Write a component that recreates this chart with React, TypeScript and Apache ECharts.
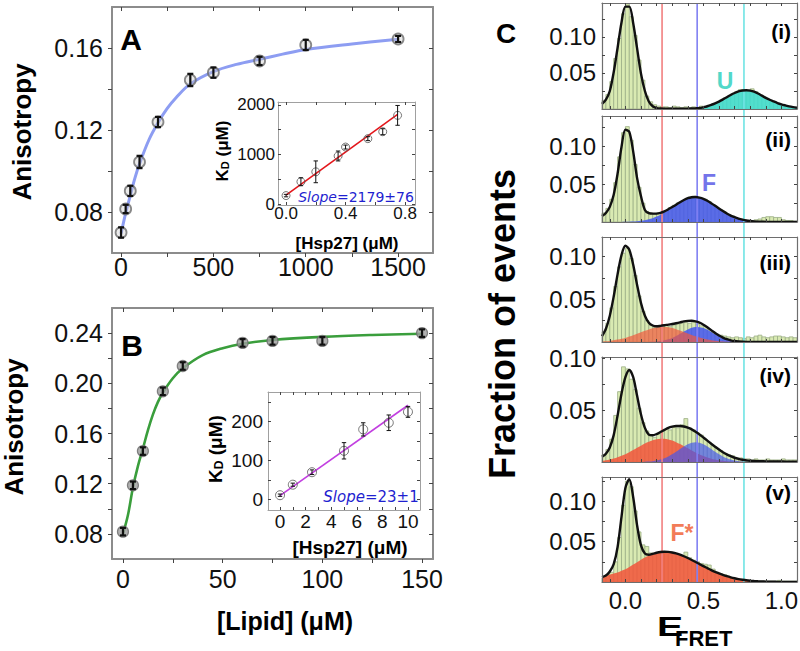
import React, { useEffect, useRef } from "react";
import * as echarts from "echarts";

const FONT = "'Liberation Sans', Arial, Helvetica, sans-serif";
const DEJAVU = "'DejaVu Sans', Verdana, sans-serif";

// ---------------- Panel A : anisotropy vs [lipid] ----------------
const lipidA = [0, 25, 50, 100, 200, 375, 500, 750, 1000, 1500];
const anisoA = [0.07, 0.0815, 0.0903, 0.1044, 0.1239, 0.1444, 0.148, 0.1537, 0.1615, 0.1644];
const anisoErrA = [0.0025, 0.002, 0.0025, 0.003, 0.0025, 0.003, 0.0025, 0.002, 0.0025, 0.0015];
const fitLipidA = [0, 25, 50, 75, 100, 150, 200, 250, 300, 375, 500, 625, 750, 875, 1000, 1250, 1500];
const fitAnisoA = [0.0695, 0.0795, 0.088, 0.0965, 0.1035, 0.115, 0.1235, 0.1305, 0.136, 0.1425, 0.1485, 0.152, 0.1545, 0.157, 0.1593, 0.162, 0.1643];
const ticksXA = [0, 250, 500, 750, 1000, 1250, 1500];
const labelsXA = [0, 500, 1000, 1500];
const ticksYA = [0.08, 0.1, 0.12, 0.14, 0.16];
const labelsYA = [0.08, 0.12, 0.16];

// inset A : KD vs [Hsp27]
const hspA = [0, 0.1, 0.2, 0.35, 0.4, 0.55, 0.65, 0.75];
const kdA = [170, 450, 650, 970, 1150, 1320, 1460, 1790];
const kdErrA = [25, 80, 220, 100, 40, 40, 60, 200];
const fitHspA = [0, 0.75];
const fitKdA = [180, 1810];
const ticksXAi = [0, 0.2, 0.4, 0.6, 0.8];
const labelsXAi = [0, 0.4, 0.8];
const ticksYAi = [0, 500, 1000, 1500, 2000];
const labelsYAi = [0, 1000, 2000];

// ---------------- Panel B ----------------
const lipidB = [0, 5, 10, 20, 30, 60, 75, 100, 150];
const anisoB = [0.0818, 0.1187, 0.146, 0.1936, 0.2138, 0.2322, 0.2338, 0.2338, 0.24];
const anisoErrB = [0.003, 0.003, 0.003, 0.003, 0.003, 0.003, 0.003, 0.003, 0.003];
const fitLipidB = [0, 2.5, 5, 7.5, 10, 12.5, 15, 17.5, 20, 25, 30, 40, 50, 60, 75, 100, 125, 150];
const fitAnisoB = [0.08, 0.095, 0.117, 0.134, 0.148, 0.1625, 0.175, 0.185, 0.1925, 0.204, 0.212, 0.2225, 0.228, 0.2315, 0.2345, 0.237, 0.2385, 0.2395];
const ticksXB = [0, 25, 50, 75, 100, 125, 150];
const labelsXB = [0, 50, 100, 150];
const ticksYB = [0.08, 0.1, 0.12, 0.14, 0.16, 0.18, 0.2, 0.22, 0.24];
const labelsYB = [0.08, 0.12, 0.16, 0.2, 0.24];

// inset B
const hspB = [0, 1, 2.5, 5, 6.5, 8.5, 10];
const kdB = [11, 38, 70, 125, 180, 197, 225];
const kdErrB = [3, 4, 6, 21, 17, 20, 14];
const fitHspB = [0, 10];
const fitKdB = [10, 242];
const ticksXBi = [0, 1, 2, 3, 4, 5, 6, 7, 8, 9, 10];
const labelsXBi = [0, 2, 4, 6, 8, 10];
const ticksYBi = [0, 50, 100, 150, 200, 250];
const labelsYBi = [0, 100, 200];

// ---------------- Panel C : FRET histograms ----------------
const eGrid = [-0.15, -0.125, -0.1, -0.075, -0.05, -0.025, 0, 0.025, 0.05, 0.075, 0.1, 0.125, 0.15, 0.175, 0.2, 0.225, 0.25, 0.275, 0.3, 0.325, 0.35, 0.375, 0.4, 0.425, 0.45, 0.475, 0.5, 0.525, 0.55, 0.575, 0.6, 0.625, 0.65, 0.675, 0.7, 0.725, 0.75, 0.775, 0.8, 0.825, 0.85, 0.875, 0.9, 0.925, 0.95, 0.975, 1.0, 1.025, 1.05, 1.075, 1.1];
const binCenters = [-0.1375, -0.1125, -0.0875, -0.0625, -0.0375, -0.0125, 0.0125, 0.0375, 0.0625, 0.0875, 0.1125, 0.1375, 0.1625, 0.1875, 0.2125, 0.2375, 0.2625, 0.2875, 0.3125, 0.3375, 0.3625, 0.3875, 0.4125, 0.4375, 0.4625, 0.4875, 0.5125, 0.5375, 0.5625, 0.5875, 0.6125, 0.6375, 0.6625, 0.6875, 0.7125, 0.7375, 0.7625, 0.7875, 0.8125, 0.8375, 0.8625, 0.8875, 0.9125, 0.9375, 0.9625, 0.9875, 1.0125, 1.0375, 1.0625, 1.0875];
const binWidth = 0.025;

// (i)
const hist1 = [0.012, 0.02, 0.038, 0.07, 0.098, 0.132, 0.146, 0.128, 0.102, 0.068, 0.04, 0.018, 0.01, 0.006, 0.004, 0.003, 0.003, 0.002, 0.004, 0.003, 0.002, 0.003, 0.002, 0.003, 0.002, 0.004, 0.003, 0.005, 0.007, 0.009, 0.012, 0.015, 0.018, 0.021, 0.024, 0.027, 0.025, 0.026, 0.028, 0.024, 0.02, 0.017, 0.014, 0.011, 0.009, 0.007, 0.005, 0.004, 0.003, 0.002];
const fit1 = [0.007, 0.013, 0.025, 0.051, 0.085, 0.12, 0.142, 0.142, 0.119, 0.084, 0.049, 0.025, 0.0105, 0.0038, 0.0013, 0.0006, 0.0005, 0.0005, 0.0005, 0.0005, 0.0005, 0.0005, 0.0005, 0.0006, 0.0009, 0.0014, 0.0025, 0.0038, 0.0056, 0.0078, 0.0103, 0.0133, 0.0164, 0.0195, 0.0222, 0.0243, 0.0257, 0.026, 0.0255, 0.024, 0.0215, 0.0185, 0.0155, 0.0128, 0.0105, 0.0083, 0.0065, 0.005, 0.0036, 0.0026, 0.0018];
const stateU1 = [0, 0, 0, 0, 0, 0, 0, 0, 0, 0, 0, 0, 0, 0, 0, 0, 0, 0, 0, 0, 0, 0, 0, 0.0002, 0.0005, 0.001, 0.0025, 0.0038, 0.0056, 0.0078, 0.0103, 0.0133, 0.0164, 0.0195, 0.0222, 0.0243, 0.0257, 0.026, 0.0255, 0.024, 0.0215, 0.0185, 0.0155, 0.0128, 0.0105, 0.0083, 0.0065, 0.005, 0.0036, 0.0026, 0.0018];

// (ii)
const hist2 = [0.012, 0.018, 0.03, 0.052, 0.086, 0.118, 0.126, 0.108, 0.076, 0.046, 0.025, 0.014, 0.012, 0.01, 0.012, 0.013, 0.015, 0.019, 0.022, 0.025, 0.027, 0.03, 0.033, 0.034, 0.032, 0.031, 0.03, 0.027, 0.023, 0.019, 0.016, 0.013, 0.01, 0.008, 0.005, 0.004, 0.003, 0.002, 0.002, 0.003, 0.004, 0.006, 0.007, 0.007, 0.006, 0.006, 0.003, 0.002, 0.002, 0.001];
const fit2 = [0.008, 0.012, 0.02, 0.036, 0.064, 0.099, 0.122, 0.119, 0.093, 0.058, 0.034, 0.016, 0.0116, 0.011, 0.011, 0.012, 0.014, 0.0168, 0.0198, 0.0229, 0.0262, 0.0291, 0.0314, 0.0327, 0.033, 0.0322, 0.0306, 0.028, 0.0249, 0.0215, 0.0179, 0.0144, 0.0113, 0.0085, 0.0063, 0.0045, 0.0031, 0.002, 0.0013, 0.0008, 0.0005, 0.0003, 0.0002, 0.0001, 0.0001, 0.0001, 0.0001, 0.0001, 0.0001, 0.0001, 0.0001];
const stateF2 = [0, 0, 0, 0, 0, 0, 0.0002, 0.0004, 0.0006, 0.001, 0.0016, 0.0024, 0.0036, 0.0051, 0.0071, 0.0096, 0.0125, 0.0158, 0.0193, 0.0229, 0.0262, 0.0291, 0.0314, 0.0327, 0.033, 0.0322, 0.0306, 0.028, 0.0249, 0.0215, 0.0179, 0.0144, 0.0113, 0.0085, 0.0063, 0.0045, 0.0031, 0.002, 0.0013, 0.0008, 0.0005, 0.0003, 0.0002, 0.0001, 0.0001, 0.0001, 0.0001, 0.0001, 0.0001, 0.0001, 0.0001];

// (iii)
const hist3 = [0.012, 0.022, 0.04, 0.065, 0.088, 0.104, 0.11, 0.098, 0.078, 0.054, 0.036, 0.025, 0.02, 0.017, 0.017, 0.018, 0.019, 0.018, 0.02, 0.021, 0.022, 0.023, 0.022, 0.024, 0.021, 0.019, 0.018, 0.014, 0.012, 0.009, 0.008, 0.007, 0.006, 0.005, 0.006, 0.005, 0.004, 0.006, 0.005, 0.007, 0.008, 0.006, 0.005, 0.006, 0.007, 0.007, 0.006, 0.005, 0.006, 0.005];
const fit3 = [0.0068, 0.0155, 0.0308, 0.0533, 0.0795, 0.1018, 0.1127, 0.1081, 0.0904, 0.0669, 0.0455, 0.0307, 0.0225, 0.0193, 0.0184, 0.0189, 0.0196, 0.0204, 0.0211, 0.022, 0.023, 0.0241, 0.0247, 0.0249, 0.0241, 0.0226, 0.0203, 0.0172, 0.0139, 0.0105, 0.0076, 0.0052, 0.0033, 0.002, 0.0011, 0.0006, 0.0003, 0.0001, 0.0001, 0.0001, 0.0001, 0.0001, 0.0001, 0.0001, 0.0001, 0.0001, 0.0001, 0.0001, 0.0001, 0.0001, 0.0001];
const stateFs3 = [0.0006, 0.0009, 0.0013, 0.002, 0.0028, 0.0037, 0.0048, 0.0063, 0.0079, 0.0096, 0.0114, 0.0131, 0.0147, 0.0161, 0.0169, 0.0175, 0.0176, 0.0172, 0.0163, 0.015, 0.0134, 0.0118, 0.01, 0.0083, 0.0066, 0.0052, 0.004, 0.0029, 0.0021, 0.0014, 0.001, 0.0007, 0.0004, 0.0002, 0.0001, 0, 0, 0, 0, 0, 0, 0, 0, 0, 0, 0, 0, 0, 0, 0, 0];
const stateF3 = [0, 0, 0, 0, 0, 0, 0, 0, 0, 0, 0, 0, 0.0001, 0.0003, 0.0006, 0.0011, 0.002, 0.0032, 0.0048, 0.007, 0.0096, 0.0123, 0.0147, 0.0166, 0.0175, 0.0174, 0.0163, 0.0143, 0.0118, 0.0091, 0.0066, 0.0045, 0.0029, 0.0018, 0.001, 0.0006, 0.0002, 0.0001, 0, 0, 0, 0, 0, 0, 0, 0, 0, 0, 0, 0, 0];

// (iv)
const hist4 = [0.007, 0.012, 0.022, 0.045, 0.068, 0.092, 0.09, 0.08, 0.07, 0.052, 0.038, 0.03, 0.026, 0.024, 0.027, 0.03, 0.032, 0.031, 0.034, 0.033, 0.036, 0.042, 0.033, 0.031, 0.028, 0.026, 0.022, 0.019, 0.016, 0.013, 0.011, 0.008, 0.007, 0.006, 0.004, 0.004, 0.003, 0.003, 0.002, 0.003, 0.002, 0.002, 0.003, 0.002, 0.002, 0.002, 0.003, 0.002, 0.002, 0.002];
const fit4 = [0.005, 0.008, 0.014, 0.026, 0.045, 0.066, 0.082, 0.089, 0.082, 0.064, 0.046, 0.033, 0.0265, 0.0258, 0.027, 0.029, 0.031, 0.033, 0.0342, 0.0348, 0.0348, 0.0343, 0.0332, 0.0315, 0.0292, 0.0266, 0.0237, 0.0207, 0.0177, 0.0148, 0.012, 0.0095, 0.0074, 0.0056, 0.0041, 0.003, 0.0022, 0.0016, 0.0012, 0.001, 0.0008, 0.0007, 0.0006, 0.0006, 0.0005, 0.0005, 0.0005, 0.0004, 0.0004, 0.0004, 0.0004];
const stateFs4 = [0.0012, 0.0018, 0.0025, 0.0034, 0.0046, 0.006, 0.0076, 0.0095, 0.0115, 0.0137, 0.0158, 0.0178, 0.0195, 0.021, 0.022, 0.0225, 0.0224, 0.0218, 0.0207, 0.0192, 0.0174, 0.0153, 0.0132, 0.0111, 0.0091, 0.0073, 0.0057, 0.0043, 0.0032, 0.0024, 0.0017, 0.0012, 0.0008, 0.0005, 0.0003, 0.0002, 0.0001, 0, 0, 0, 0, 0, 0, 0, 0, 0, 0, 0, 0, 0, 0];
const stateF4 = [0, 0, 0, 0, 0, 0, 0, 0, 0, 0, 0, 0.0003, 0.0005, 0.0008, 0.0014, 0.0023, 0.0036, 0.0054, 0.0075, 0.0099, 0.0126, 0.0151, 0.0171, 0.0185, 0.019, 0.0185, 0.0171, 0.0151, 0.0126, 0.0099, 0.0075, 0.0054, 0.0036, 0.0023, 0.0014, 0.0008, 0.0004, 0.0002, 0.0001, 0, 0, 0, 0, 0, 0, 0, 0, 0, 0, 0, 0];

// (v)
const hist5 = [0.005, 0.009, 0.012, 0.025, 0.055, 0.095, 0.125, 0.118, 0.088, 0.062, 0.046, 0.044, 0.036, 0.034, 0.036, 0.038, 0.036, 0.037, 0.035, 0.034, 0.032, 0.037, 0.03, 0.027, 0.025, 0.023, 0.022, 0.021, 0.016, 0.012, 0.01, 0.009, 0.007, 0.005, 0.004, 0.003, 0.002, 0.002, 0.001, 0.001, 0.001, 0.001, 0.001, 0.001, 0.001, 0.002, 0.001, 0.001, 0.001, 0.001];
const fit5 = [0.006, 0.008, 0.013, 0.022, 0.0434, 0.0807, 0.1165, 0.1272, 0.105, 0.0701, 0.0453, 0.0352, 0.0337, 0.0348, 0.0362, 0.0372, 0.0375, 0.0373, 0.0365, 0.0354, 0.0338, 0.0319, 0.0297, 0.0273, 0.0248, 0.0222, 0.0196, 0.0172, 0.0148, 0.0126, 0.0106, 0.0088, 0.0072, 0.0058, 0.0046, 0.0036, 0.0028, 0.0021, 0.0016, 0.0012, 0.0009, 0.0007, 0.0005, 0.0004, 0.0003, 0.0002, 0.0001, 0.0001, 0.0001, 0.0001, 0.0001];
const stateFs5 = [0.006, 0.0075, 0.009, 0.0105, 0.0118, 0.014, 0.0157, 0.0186, 0.0216, 0.0245, 0.0274, 0.0302, 0.0327, 0.0347, 0.0362, 0.0372, 0.0375, 0.0373, 0.0365, 0.0354, 0.0338, 0.0319, 0.0297, 0.0273, 0.0248, 0.0222, 0.0196, 0.0172, 0.0148, 0.0126, 0.0106, 0.0088, 0.0072, 0.0058, 0.0046, 0.0036, 0.0028, 0.0021, 0.0016, 0.0012, 0.0009, 0.0007, 0.0005, 0.0004, 0.0003, 0.0002, 0.0001, 0.0001, 0.0001, 0.0001, 0.0001];

const cYMax = [0.147, 0.14, 0.123, 0.1015, 0.13];
const cTicksX = [-0.1, 0, 0.1, 0.2, 0.3, 0.4, 0.5, 0.6, 0.7, 0.8, 0.9, 1.0];
const cLabelsX = [0, 0.5, 1.0];
const cTicksY = [0.025, 0.05, 0.075, 0.1, 0.125];
const cLabelsY = [0.05, 0.1];
const panelTags = ["(i)", "(ii)", "(iii)", "(iv)", "(v)"];
const refE = [0.235, 0.46, 0.76];
const refColors = ["#f27f7f", "#8080f2", "#6fe4e4"];

const COL_U = "#3fdcd0";
const COL_F = "#4356ee";
const COL_FS = "#f1583c";

function makeAxis(gridIndex: number, pos: string, s: any) {
  return {
    type: "value",
    gridIndex,
    min: s.min,
    max: s.max,
    position: pos,
    z: 6,
    silent: true,
    axisLine: { show: !!s.line, onZero: false, lineStyle: { color: s.line ? s.line.color : "#888", width: s.line ? s.line.width : 1 } },
    axisTick: {
      show: !!(s.ticks && s.ticks.length),
      customValues: s.ticks || [],
      inside: !!s.inside,
      length: s.tickLen || 4,
      lineStyle: { color: s.tickColor || "#444", width: s.tickWidth || 1 },
    },
    axisLabel: {
      show: !!(s.labels && s.labels.length),
      customValues: s.labels || [],
      formatter: s.fmt,
      fontSize: s.fontSize || 12,
      fontFamily: FONT,
      color: "#111",
      margin: s.margin == null ? 6 : s.margin,
    },
    splitLine: { show: false },
    splitArea: { show: false },
  };
}

export default function App() {
  const ref = useRef<HTMLDivElement>(null);
  useEffect(() => {
    const el = ref.current;
    if (!el) return;
    const chart = echarts.init(el, null, { renderer: "svg" });

    const grids: any[] = [];
    const xAxis: any[] = [];
    const yAxis: any[] = [];
    const series: any[] = [];

    function addPanel(box: number[], xs: any[], ys: any[], bg?: boolean) {
      const gi = grids.length;
      grids.push({ left: box[0], top: box[1], width: box[2], height: box[3], show: !!bg, backgroundColor: "#fff", borderWidth: 0, containLabel: false, outerBoundsMode: "none" });
      const xi = xAxis.length;
      const yi = yAxis.length;
      xs.forEach((a: any) => xAxis.push(makeAxis(gi, a[0], a[1])));
      ys.forEach((a: any) => yAxis.push(makeAxis(gi, a[0], a[1])));
      return { gi, xi, yi };
    }

    const errBars = (p: any, xs: number[], ys: number[], es: number[], color: string, lw: number, cap: number, z: number) => ({
      type: "custom",
      xAxisIndex: p.xi,
      yAxisIndex: p.yi,
      z,
      silent: true,
      encode: { x: 0, y: 1 },
      data: xs.map((x, i) => [x, ys[i], es[i]]),
      renderItem: (_params: any, api: any) => {
        const x = api.value(0), y = api.value(1), e = api.value(2);
        const t = api.coord([x, y + e]);
        const b = api.coord([x, y - e]);
        const st = { stroke: color, lineWidth: lw };
        return {
          type: "group",
          children: [
            { type: "line", shape: { x1: t[0], y1: t[1], x2: b[0], y2: b[1] }, style: st },
            { type: "line", shape: { x1: t[0] - cap, y1: t[1], x2: t[0] + cap, y2: t[1] }, style: st },
            { type: "line", shape: { x1: b[0] - cap, y1: b[1], x2: b[0] + cap, y2: b[1] }, style: st },
          ],
        };
      },
    });

    // ---------- Panel A ----------
    const fA = { color: "#8c8c8c", width: 2 };
    const A = addPanel(
      [112, 7, 321, 246],
      [
        ["bottom", { min: -49, max: 1689, line: fA, ticks: ticksXA, tickLen: 4, labels: labelsXA, fmt: (v: number) => String(v), fontSize: 25, margin: 1 }],
        ["top", { min: -49, max: 1689, line: fA, ticks: ticksXA, tickLen: 4, inside: true }],
      ],
      [
        ["left", { min: 0.06, max: 0.18, line: fA, ticks: ticksYA, tickLen: 4, labels: labelsYA, fmt: (v: number) => v.toFixed(2), fontSize: 25, margin: 9 }],
        ["right", { min: 0.06, max: 0.18, line: fA, ticks: ticksYA, tickLen: 4, inside: true }],
      ]
    );
    series.push({ type: "line", xAxisIndex: A.xi, yAxisIndex: A.yi, z: 2, smooth: 0.35, symbol: "none", silent: true, data: fitLipidA.map((x, i) => [x, fitAnisoA[i]]), lineStyle: { color: "#8d9df2", width: 3 } });
    series.push({ type: "scatter", xAxisIndex: A.xi, yAxisIndex: A.yi, z: 3, silent: true, symbol: "circle", symbolSize: 11, data: lipidA.map((x, i) => [x, anisoA[i]]), itemStyle: { color: "rgba(200,200,200,0.45)", borderColor: "#6b6b6b", borderWidth: 1.8 } });
    series.push(errBars(A, lipidA, anisoA, anisoErrA, "#111", 2.2, 3, 4));

    // inset A
    const fi = { color: "#a0a0a0", width: 1 };
    const Ai = addPanel(
      [278, 102, 137, 103],
      [
        ["bottom", { min: -0.054, max: 0.867, line: fi, ticks: ticksXAi, tickLen: 3, inside: true, labels: labelsXAi, fmt: (v: number) => v.toFixed(1), fontSize: 17, margin: 0 }],
        ["top", { min: -0.054, max: 0.867, line: fi, ticks: ticksXAi, tickLen: 3, inside: true }],
      ],
      [
        ["left", { min: -20, max: 2060, line: fi, ticks: ticksYAi, tickLen: 3, inside: true, labels: labelsYAi, fmt: (v: number) => String(v), fontSize: 17, margin: 3 }],
        ["right", { min: -20, max: 2060, line: fi, ticks: ticksYAi, tickLen: 3, inside: true }],
      ],
      true
    );
    series.push({ type: "line", xAxisIndex: Ai.xi, yAxisIndex: Ai.yi, z: 2, symbol: "none", silent: true, data: fitHspA.map((x, i) => [x, fitKdA[i]]), lineStyle: { color: "#e3161b", width: 1.6 } });
    series.push({ type: "scatter", xAxisIndex: Ai.xi, yAxisIndex: Ai.yi, z: 3, silent: true, symbolSize: 8, data: hspA.map((x, i) => [x, kdA[i]]), itemStyle: { color: "rgba(255,255,255,0)", borderColor: "#555", borderWidth: 1 } });
    series.push(errBars(Ai, hspA, kdA, kdErrA, "#111", 1, 2.2, 4));

    // ---------- Panel B ----------
    const B = addPanel(
      [112, 308, 321, 251],
      [
        ["bottom", { min: -5.5, max: 155.5, line: fA, ticks: ticksXB, tickLen: 4, labels: labelsXB, fmt: (v: number) => String(v), fontSize: 25, margin: 7 }],
        ["top", { min: -5.5, max: 155.5, line: fA, ticks: ticksXB, tickLen: 4, inside: true }],
      ],
      [
        ["left", { min: 0.06, max: 0.26, line: fA, ticks: ticksYB, tickLen: 4, labels: labelsYB, fmt: (v: number) => v.toFixed(2), fontSize: 25, margin: 9 }],
        ["right", { min: 0.06, max: 0.26, line: fA, ticks: ticksYB, tickLen: 4, inside: true }],
      ]
    );
    series.push({ type: "line", xAxisIndex: B.xi, yAxisIndex: B.yi, z: 2, smooth: 0.35, symbol: "none", silent: true, data: fitLipidB.map((x, i) => [x, fitAnisoB[i]]), lineStyle: { color: "#3a9e3c", width: 2.6 } });
    series.push({ type: "scatter", xAxisIndex: B.xi, yAxisIndex: B.yi, z: 3, silent: true, symbolSize: 11, data: lipidB.map((x, i) => [x, anisoB[i]]), itemStyle: { color: "#9c9c9c", borderColor: "#6a6a6a", borderWidth: 1.2 } });
    series.push(errBars(B, lipidB, anisoB, anisoErrB, "#111", 2.2, 3, 4));

    // inset B
    const Bi = addPanel(
      [268, 392, 152, 118],
      [
        ["bottom", { min: -0.94, max: 10.94, line: fi, ticks: ticksXBi, tickLen: 3, inside: true, labels: labelsXBi, fmt: (v: number) => String(v), fontSize: 19, margin: 2 }],
        ["top", { min: -0.94, max: 10.94, line: fi, ticks: ticksXBi, tickLen: 3, inside: true }],
      ],
      [
        ["left", { min: -27, max: 276, line: fi, ticks: ticksYBi, tickLen: 3, inside: true, labels: labelsYBi, fmt: (v: number) => String(v), fontSize: 19, margin: 5 }],
        ["right", { min: -27, max: 276, line: fi, ticks: ticksYBi, tickLen: 3, inside: true }],
      ],
      true
    );
    series.push({ type: "line", xAxisIndex: Bi.xi, yAxisIndex: Bi.yi, z: 2, symbol: "none", silent: true, data: fitHspB.map((x, i) => [x, fitKdB[i]]), lineStyle: { color: "#c23fe0", width: 1.6 } });
    series.push({ type: "scatter", xAxisIndex: Bi.xi, yAxisIndex: Bi.yi, z: 3, silent: true, symbolSize: 9, data: hspB.map((x, i) => [x, kdB[i]]), itemStyle: { color: "rgba(255,255,255,0)", borderColor: "#555", borderWidth: 1 } });
    series.push(errBars(Bi, hspB, kdB, kdErrB, "#111", 1, 2.2, 4));

    // ---------- Panel C ----------
    const cBoxes = [
      [602, 3, 195, 106],
      [602, 116, 195, 106],
      [602, 237, 195, 105],
      [602, 357, 195, 105],
      [602, 477, 195, 105],
    ];
    const fC = { color: "#6e6e6e", width: 1.2 };
    const C = cBoxes.map((box, k) => {
      const ymax = cYMax[k];
      const yt = cTicksY.filter((v) => v < ymax - 0.001);
      return addPanel(
        box,
        [
          ["bottom", { min: -0.15, max: 1.1, line: fC, ticks: cTicksX, tickLen: 3, inside: true, labels: k === 4 ? cLabelsX : null, fmt: (v: number) => v.toFixed(1), fontSize: 24, margin: 6 }],
          ["top", { min: -0.15, max: 1.1, line: fC, ticks: cTicksX, tickLen: 3, inside: true }],
        ],
        [
          ["left", { min: 0, max: ymax, line: fC, ticks: yt, tickLen: 3, inside: true, labels: cLabelsY, fmt: (v: number) => v.toFixed(2), fontSize: 24, margin: 6 }],
          ["right", { min: 0, max: ymax, line: fC, ticks: yt, tickLen: 3, inside: true }],
        ]
      );
    });

    const hist = (p: any, vals: number[]) => ({
      type: "custom",
      xAxisIndex: p.xi,
      yAxisIndex: p.yi,
      z: 1,
      silent: true,
      encode: { x: 0, y: 1 },
      data: binCenters.map((c, i) => [c, vals[i]]),
      renderItem: (_params: any, api: any) => {
        const c = api.value(0), h = api.value(1);
        const a = api.coord([c - binWidth / 2, h]);
        const b = api.coord([c + binWidth / 2, 0]);
        return { type: "rect", shape: { x: a[0], y: a[1], width: b[0] - a[0], height: b[1] - a[1] }, style: { fill: "#d9eab2", stroke: "#9cae86", lineWidth: 0.8 } };
      },
    });
    const area = (p: any, ys: number[], color: string, opacity: number, z: number) => ({
      type: "line",
      xAxisIndex: p.xi,
      yAxisIndex: p.yi,
      z,
      silent: true,
      smooth: 0.3,
      symbol: "none",
      data: eGrid.map((e, i) => [e, ys[i]]),
      lineStyle: { width: 0 },
      areaStyle: { color, opacity },
    });
    const fitLine = (p: any, ys: number[]) => ({
      type: "line",
      xAxisIndex: p.xi,
      yAxisIndex: p.yi,
      z: 5,
      silent: true,
      smooth: 0.3,
      symbol: "none",
      data: eGrid.map((e, i) => [e, ys[i]]),
      lineStyle: { color: "#111", width: 2.4 },
    });

    series.push(hist(C[0], hist1), area(C[0], stateU1, COL_U, 0.88, 2), fitLine(C[0], fit1));
    series.push(hist(C[1], hist2), area(C[1], stateF2, COL_F, 0.85, 2), fitLine(C[1], fit2));
    series.push(hist(C[2], hist3), area(C[2], stateF3, COL_F, 0.85, 2), area(C[2], stateFs3, COL_FS, 0.7, 3), fitLine(C[2], fit3));
    series.push(hist(C[3], hist4), area(C[3], stateFs4, COL_FS, 0.88, 2), area(C[3], stateF4, COL_F, 0.68, 3), fitLine(C[3], fit4));
    series.push(hist(C[4], hist5), area(C[4], stateFs5, COL_FS, 0.88, 2), fitLine(C[4], fit5));

    chart.setOption({
      animation: false,
      backgroundColor: "#fff",
      grid: grids,
      xAxis,
      yAxis,
      series,
    });

    // ---------- annotations ----------
    const txt = (text: string, x: number, y: number, size: number, o: any = {}) => ({
      type: "text",
      x,
      y,
      z: 100,
      rotation: o.rotation || 0,
      scaleX: o.scaleX || 1,
      silent: true,
      style: {
        text,
        fill: o.color || "#000",
        fontSize: size,
        fontWeight: o.weight || "bold",
        fontFamily: o.family || FONT,
        fontStyle: o.style || "normal",
        align: o.align || "center",
        verticalAlign: "middle",
        textAlign: o.align || "center",
        textVerticalAlign: "middle",
        lineHeight: o.lineHeight,
        rich: o.rich,
      },
    });

    const kdRich = (size: number, sub: number) => ({
      k: { fontSize: size, fontWeight: "bold", fontFamily: FONT, fill: "#000", lineHeight: size, verticalAlign: "top" },
      d: { fontSize: sub, fontWeight: "bold", fontFamily: FONT, fill: "#000", lineHeight: sub, verticalAlign: "bottom", padding: [Math.round(size * 0.55), 0, 0, 0] },
    });
    const slopeRich = (size: number) => ({
      i: { fontSize: size, fontFamily: DEJAVU, fontStyle: "italic", fill: "#1f1fd0" },
      n: { fontSize: size, fontFamily: DEJAVU, fill: "#1f1fd0" },
    });

    const elements: any[] = [
      txt("A", 131, 39, 30),
      txt("B", 132, 345, 30),
      txt("C", 506, 33, 28),
      txt("Anisotropy", 22, 132, 26, { rotation: Math.PI / 2 }),
      txt("Anisotropy", 14, 427, 26, { rotation: Math.PI / 2 }),
      txt("[Lipid] (\u03bcM)", 285, 621, 25),
      txt("[Hsp27] (\u03bcM)", 347, 243, 17),
      txt("[Hsp27] (\u03bcM)", 350, 547, 19),
      txt("{k|K}{d|D}{k| (\u03bcM)}", 222, 151, 17, { rotation: Math.PI / 2, rich: kdRich(17, 11) }),
      txt("{k|K}{d|D}{k| (\u03bcM)}", 215, 449, 19, { rotation: Math.PI / 2, rich: kdRich(19, 12) }),
      txt("{i|Slope}{n|=2179\u00b176}", 356, 197, 14, { rich: slopeRich(14), weight: "normal" }),
      txt("{i|Slope}{n|=23\u00b11}", 371, 497, 15, { rich: slopeRich(15), weight: "normal" }),
      txt("Fraction of events", 502, 324, 36, { rotation: Math.PI / 2 }),
      txt("E", 670, 626, 28, { scaleX: 1.4, lineHeight: 28 }),
      txt("FRET", 675, 638.5, 22, { align: "left", lineHeight: 22 }),
      txt("U", 725, 81, 23, { color: "#52d8c9" }),
      txt("F", 709, 183, 23, { color: "#7474ea" }),
      txt("F*", 682, 533, 23, { color: "#f27c58" }),
    ];
    const tagY = [31, 139, 262, 375, 492];
    panelTags.forEach((t, k) => elements.push(txt(t, 791, tagY[k], 21, { align: "right" })));

    const c0 = { xAxisIndex: C[0].xi, yAxisIndex: C[0].yi };
    const c4 = { xAxisIndex: C[4].xi, yAxisIndex: C[4].yi };
    const topPt = chart.convertToPixel(c0 as any, [0, cYMax[0]]) as any;
    const botPt = chart.convertToPixel(c4 as any, [0, 0]) as any;
    refE.forEach((e, k) => {
      const px = chart.convertToPixel(c4 as any, [e, 0]) as any;
      if (px && topPt && botPt) {
        elements.push({
          type: "line",
          z: 4,
          silent: true,
          shape: { x1: px[0], y1: topPt[1], x2: px[0], y2: botPt[1] },
          style: { stroke: refColors[k], lineWidth: 1.6 },
        });
      }
    });

    chart.setOption({ graphic: { elements } });

    return () => chart.dispose();
  }, []);

  return <div ref={ref} style={{ position: "fixed", left: 0, top: 0, width: 800, height: 651, background: "#fff" }} />;
}
